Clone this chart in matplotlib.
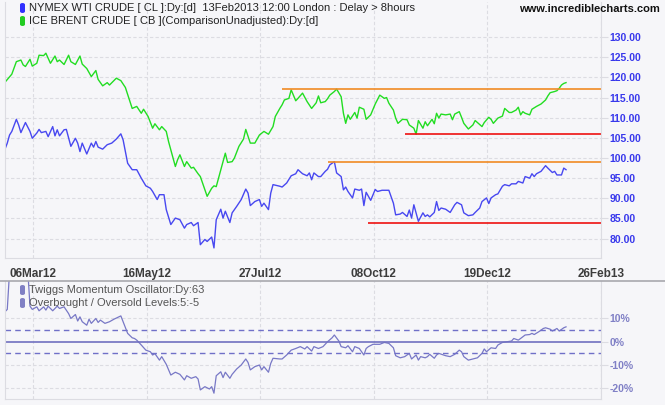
import matplotlib
matplotlib.use('Agg')
import matplotlib.pyplot as plt
from matplotlib.patches import FancyBboxPatch
from matplotlib.lines import Line2D

# trading-day index (0 = first bar) and closing prices
brent_day = [0, 3, 5, 7, 8, 9, 11, 12, 14, 15, 17, 18, 20, 22, 23, 24, 26, 28, 29, 31,
             33, 34, 36, 38, 40, 41, 43, 45, 46, 49, 51, 53, 55, 56, 58, 60, 61, 63, 65, 66,
             68, 69, 71, 72, 75, 76, 77, 79, 80, 82, 83, 85, 86, 88, 89, 91, 92, 93, 95, 97,
             98, 100, 101, 103, 105, 106, 108, 110, 112, 114, 116, 118, 119, 121, 122, 123, 125, 126, 128, 129,
             131, 133, 135, 137, 138, 139, 141, 142, 143, 145, 146, 148, 149, 150, 151, 152, 154, 155,
             156, 158, 159, 161, 163, 165, 167, 168, 169, 171, 172, 173, 175, 177, 178, 180, 181, 182, 184, 185,
             186, 188, 189, 190, 191, 192, 194, 196, 197, 198, 200, 201, 202, 204, 206, 207, 208, 210, 211, 213,
             214, 215, 217, 219, 220, 222, 223, 225, 226, 227, 228, 229, 231, 232, 234, 236, 238, 239, 240, 242,
             243, 244, 245, 246, 247]
brent = [118.8, 120.8, 123.9, 124.3, 123.1, 122.7, 124.5, 122.8, 123.5, 125.5,
         125.4, 126.0, 123.5, 125.3, 123.9, 124.3, 123.2, 125.5, 123.9, 123.2,
         125.3, 123.3, 122.2, 120.2, 121.7, 119.5, 117.9, 118.7, 118.1, 119.8,
         119.2, 117.5, 114.0, 112.3, 112.8, 111.1, 112.1, 110.3, 107.4, 108.5,
         107.0, 107.8, 106.6, 104.1, 97.9, 99.6, 100.8, 97.9, 99.1, 97.5,
         97.7, 96.1, 95.4, 92.1, 90.5, 92.5, 93.1, 92.9, 97.1, 101.2,
         98.9, 99.1, 100.0, 102.9, 104.7, 107.1, 103.7, 103.7, 105.7, 106.6,
         105.9, 107.8, 110.3, 112.3, 113.2, 114.4, 114.8, 116.9, 114.2, 114.8,
         116.1, 114.0, 112.3, 113.7, 115.4, 113.7, 114.0, 114.7,
         115.6, 116.5, 117.1, 115.2, 111.1, 108.6, 110.7, 109.6, 111.3, 109.9,
         112.6, 112.1, 109.6, 110.7, 113.4, 115.6, 114.8, 115.0, 113.6, 111.9,
         109.9, 108.6, 109.6, 109.5, 108.2, 107.4, 105.9, 109.3, 107.4, 109.0,
         108.0, 109.6, 108.5, 111.1, 109.9, 110.9, 110.7, 110.9, 109.5, 110.9,
         111.5, 110.1, 108.6, 107.2, 108.2, 109.3, 108.8, 107.8, 108.8, 110.1,
         109.6, 108.6, 109.9, 110.4, 112.3, 111.3, 111.3, 111.9, 112.6, 110.7,
         111.5, 111.1, 110.7, 112.1, 112.8, 113.4, 114.4, 115.4, 116.2, 116.5,
         116.7, 117.3, 118.1, 118.5, 118.7]

wti_day = [0, 1, 2, 3, 5, 6, 7, 9, 11, 12, 14, 15, 16, 18, 19, 21, 22, 23, 24, 26,
           27, 29, 31, 32, 33, 34, 36, 38, 39, 40, 41, 43, 45, 47, 49, 51, 52, 54, 56, 58,
           60, 62, 64, 65, 67, 68, 70, 71, 73, 75, 77, 79, 80, 82, 83, 85, 86, 88, 89, 91,
           92, 93, 95, 96, 97, 99, 100, 102, 104, 106, 107, 108, 110, 112, 113, 114, 116, 117, 118, 121,
           122, 124, 126, 128, 129, 131, 133, 134, 135, 136, 138, 139, 141, 142,
           143, 145, 146, 148, 149, 150, 151, 153, 154, 156, 157, 158, 159, 161, 163, 164, 166, 169, 171, 172,
           174, 175, 177, 178, 179, 180, 182, 184, 185, 186, 187, 189, 190, 191, 192, 194, 196, 198, 199, 201,
           202, 204, 206, 207, 209, 210, 212, 213, 214, 216, 217, 219, 220, 222, 223, 225, 226, 228, 229, 231,
           232, 233, 234, 236, 238, 239, 241, 242, 243, 245, 246, 247]
wti = [102.2, 103.7, 105.7, 106.6, 109.6, 108.2, 106.3, 108.8, 106.6, 104.9,
       106.2, 107.1, 106.3, 106.6, 105.3, 107.8, 105.5, 107.0, 105.5, 107.0,
       107.1, 102.9, 104.9, 103.7, 101.6, 103.7, 101.0, 103.7, 102.7, 104.1,
       102.7, 102.2, 103.3, 103.7, 104.7, 106.0, 104.5, 98.7, 97.1, 97.1,
       95.0, 93.1, 92.5, 91.7, 89.7, 90.9, 90.9, 87.2, 83.5, 85.1,
       84.7, 82.6, 83.5, 84.0, 83.2, 84.0, 78.5, 79.8, 79.3, 80.4,
       77.7, 84.7, 87.3, 85.1, 86.8, 84.0, 86.4, 88.0, 89.7, 92.3,
       91.3, 88.2, 89.2, 89.7, 88.0, 88.8, 87.2, 91.3, 93.4, 93.0,
       92.8, 93.8, 95.6, 96.1, 97.1, 96.1, 95.6, 96.3, 94.6, 96.3,
       95.4, 95.4, 96.7, 97.2,
       98.3, 99.1, 96.3, 95.4, 92.1, 92.8, 91.7, 90.1, 92.3, 92.0,
       92.3, 88.2, 91.5, 89.5, 92.2, 91.7, 92.0, 92.0, 88.8, 85.9,
       86.1, 86.5, 85.5, 87.1, 85.1, 88.4, 84.3, 86.4, 85.5, 85.9,
       85.4, 86.5, 89.2, 87.0, 87.6, 87.3, 86.5, 88.4, 89.0, 88.4,
       86.4, 85.7, 85.9, 86.5, 87.6, 89.2, 90.1, 88.7, 90.1, 90.9,
       91.1, 93.0, 93.4, 93.1, 93.6, 93.6, 94.2, 93.8, 95.4, 95.0,
       96.1, 95.4, 96.1, 96.7, 98.1, 97.5, 96.4, 96.7, 95.8, 95.8,
       97.5, 97.1]

# Twiggs Momentum (%)
tmo_day = [0, 1, 2, 5, 8, 10, 11, 12, 14, 15, 17, 18, 19, 21, 23, 24, 26,
           28, 29, 31, 32, 33, 34, 36, 37, 38, 40, 41, 42, 44, 46, 48, 51, 52, 54,
           56, 57, 58, 60, 62, 64, 65, 66, 68, 69, 71, 73, 75, 77, 79, 80, 82, 84,
           85, 86, 88, 90, 91, 92, 93, 95, 96, 97, 99, 100, 102, 104, 106, 107, 108,
           110, 112, 113, 114, 116, 117, 118, 121, 122, 124, 126, 128, 130, 132, 133,
           135, 136, 138, 140, 142, 144, 145, 147, 148, 150, 151, 153, 154, 156, 158,
           159, 160, 162, 165, 167, 169, 171, 172, 174, 176, 178, 179, 181, 182, 183,
           185, 186, 187, 189, 190, 191, 193, 194, 196, 198, 200, 201, 202, 204, 206,
           208, 210, 211, 212, 214, 216, 217, 219, 221, 223, 224, 226, 227, 229, 231,
           232, 233, 235, 237, 238, 240, 241, 243, 244, 246, 247]
tmo = [12.9, 13.9, 30.0, 31.0, 30.0, 31.0, 15.3, 13.9, 15.0, 13.3, 15.0, 13.6, 15.3, 13.3, 15.3, 14.3, 15.0,
       12.1, 10.0, 11.7, 8.9, 10.7, 8.6, 7.1, 9.7, 7.9, 10.0, 8.3, 9.3, 7.9, 8.6, 9.7, 11.1, 8.6, 3.6,
       1.7, 1.4, 0.7, -1.4, -3.6, -4.3, -5.7, -5.1, -7.9, -6.4, -9.7, -14.3, -13.1, -14.0, -16.4, -14.6, -15.7, -15.0,
       -16.0, -20.7, -19.3, -20.3, -19.3, -22.1, -14.6, -12.9, -15.4, -13.1, -15.7, -14.0, -11.7, -10.0, -7.4, -8.9, -12.1,
       -10.7, -10.0, -12.1, -10.7, -13.1, -9.3, -7.1, -7.4, -7.4, -5.7, -3.6, -2.9, -2.1, -3.1, -2.1,
       -4.0, -2.1, -2.9, -2.1, 0.0, 1.7, 2.9, 0.3, -2.1, -2.6, -1.7, -4.3, -2.1, -2.9, -5.7,
       -2.9, -2.1, -1.1, -1.1, -0.3, -0.7, -2.6, -6.0, -6.9, -6.4, -5.0, -7.4, -5.7, -7.9, -6.4,
       -6.9, -6.4, -5.4, -7.1, -5.7, -5.0, -5.7, -6.0, -6.4, -5.4, -3.6, -4.3, -6.4, -7.9, -7.4,
       -6.9, -5.0, -3.1, -4.3, -2.6, -2.9, -1.4, -0.3, 0.0, 0.3, 1.4, 0.7, 1.4, 2.9, 3.1,
       3.6, 3.1, 4.3, 5.7, 6.0, 5.4, 4.6, 5.7, 4.6, 6.0, 6.4]

# support / resistance lines: (start day, level)
brent_resist = (122, 117.05)
brent_support = (176, 105.9)
wti_resist = (142, 99.1)
wti_support = (160, 83.9)

date_ticks = [12.3, 62.3, 112.3, 162.3, 212.3, 262.3]
date_labels = ['06Mar12', '16May12', '27Jul12', '08Oct12', '19Dec12', '26Feb13']
price_ticks = [80, 85, 90, 95, 100, 105, 110, 115, 120, 125, 130]
tmo_ticks = [10, 0, -10, -20]
ob_levels = [5, -5]

W, H = 665, 405
bg = '#f6f6f9'
grid_c = '#dcdce2'
osc_c = '#7878c6'
x_end = 262.4

fig = plt.figure(figsize=(W / 100, H / 100), dpi=100, facecolor=bg)


def box(l, t, r, b):
    return [l / W, 1 - b / H, (r - l) / W, (b - t) / H]


ax = fig.add_axes(box(5, 2, 601, 258), facecolor=bg)
ax2 = fig.add_axes(box(5, 281, 601, 399), facecolor=bg)

ax.plot(brent_day, brent, color='#22dd22', lw=1.0)
ax.plot(wti_day, wti, color='#4848f0', lw=1.0)
for (d0, lvl), c in [(brent_resist, '#f08a24'), (wti_resist, '#f08a24'),
                     (brent_support, '#ee1111'), (wti_support, '#ee1111')]:
    ax.plot([d0, x_end], [lvl, lvl], color=c, lw=1.2, solid_capstyle='butt')

ax.set_xlim(0, x_end)
ax.set_ylim(75.2, 138.7)
ax.set_yticks(price_ticks)
ax.set_yticklabels(['%.2f' % v for v in price_ticks])
ax.set_xticks(date_ticks)
ax.set_xticklabels(date_labels)

ax2.plot(tmo_day, tmo, color=osc_c, lw=0.9)
ax2.axhline(0, color='#7070c0', lw=1.2)
for lv in ob_levels:
    ax2.axhline(lv, color='#7070c8', lw=1.0, dashes=(4, 3))
ax2.set_xlim(0, x_end)
ax2.set_ylim(-24.6, 26.1)
ax2.set_yticks(tmo_ticks)
ax2.set_yticklabels(['%d%%' % v for v in tmo_ticks])
ax2.set_xticks(date_ticks)
ax2.set_xticklabels([])

for a in (ax, ax2):
    a.grid(True, color=grid_c, lw=0.8, dashes=(3, 2))
    a.set_axisbelow(True)
    a.yaxis.tick_right()
    for s in a.spines.values():
        s.set_color(grid_c)
    a.spines['top'].set_visible(False)
    a.tick_params(axis='y', length=5, width=0.8, color=grid_c, pad=1)
    a.tick_params(axis='x', length=0)

ax.tick_params(axis='x', pad=7, labelsize=8.5, labelcolor='#3c3c3c')
for t in ax.get_xticklabels():
    t.set_fontfamily(['Liberation Sans Narrow', 'Liberation Sans'])
    t.set_fontweight('bold')
for t in ax.get_yticklabels():
    t.set_fontfamily('Liberation Sans')
    t.set_fontweight('bold')
    t.set_fontsize(7.5)
    t.set_color('#3838ec')
ax2.grid(False, axis='y')
ax2.axhline(10, color=grid_c, lw=0.8, dashes=(3, 2), zorder=0)
ax2.axhline(-10, color=grid_c, lw=0.8, dashes=(3, 2), zorder=0)
ax2.axhline(-20, color=grid_c, lw=0.8, dashes=(3, 2), zorder=0)
for t in ax2.get_yticklabels():
    t.set_fontfamily('Liberation Sans')
    t.set_fontweight('bold')
    t.set_fontsize(7.5)
    t.set_color('#8080c6')

# separator between panels
fig.add_artist(Line2D([0, 1], [1 - 281 / H, 1 - 281 / H], color='#a8a8ae', lw=1.2))


def legend_item(x, y, color, text, tcolor):
    fig.add_artist(FancyBboxPatch(((x) / W, 1 - (y + 5) / H), 5 / W, 10 / H,
                                  boxstyle='round,pad=0,rounding_size=0.004',
                                  facecolor=color, edgecolor='none'))
    fig.text((x + 9) / W, 1 - y / H, text, fontsize=8, color=tcolor,
             family='Liberation Sans', va='center', ha='left')


legend_item(20, 8, '#3030ff', 'NYMEX WTI CRUDE [ CL ]:Dy:[d]  13Feb2013 12:00 London : Delay > 8hours', '#222222')
legend_item(20, 21, '#22cc22', 'ICE BRENT CRUDE [ CB ](ComparisonUnadjusted):Dy:[d]', '#222222')
legend_item(20, 290, '#8080c4', 'Twiggs Momentum Oscillator:Dy:63', '#555555')
legend_item(20, 303, '#8080c4', 'Overbought / Oversold Levels:5:-5', '#555555')

fig.text(660 / W, 1 - 9 / H, 'www.incrediblecharts.com', fontsize=8, fontweight='bold',
         color='#111111', family='Liberation Sans', ha='right', va='center')

fig.savefig('out.png', dpi=100, facecolor=bg)
